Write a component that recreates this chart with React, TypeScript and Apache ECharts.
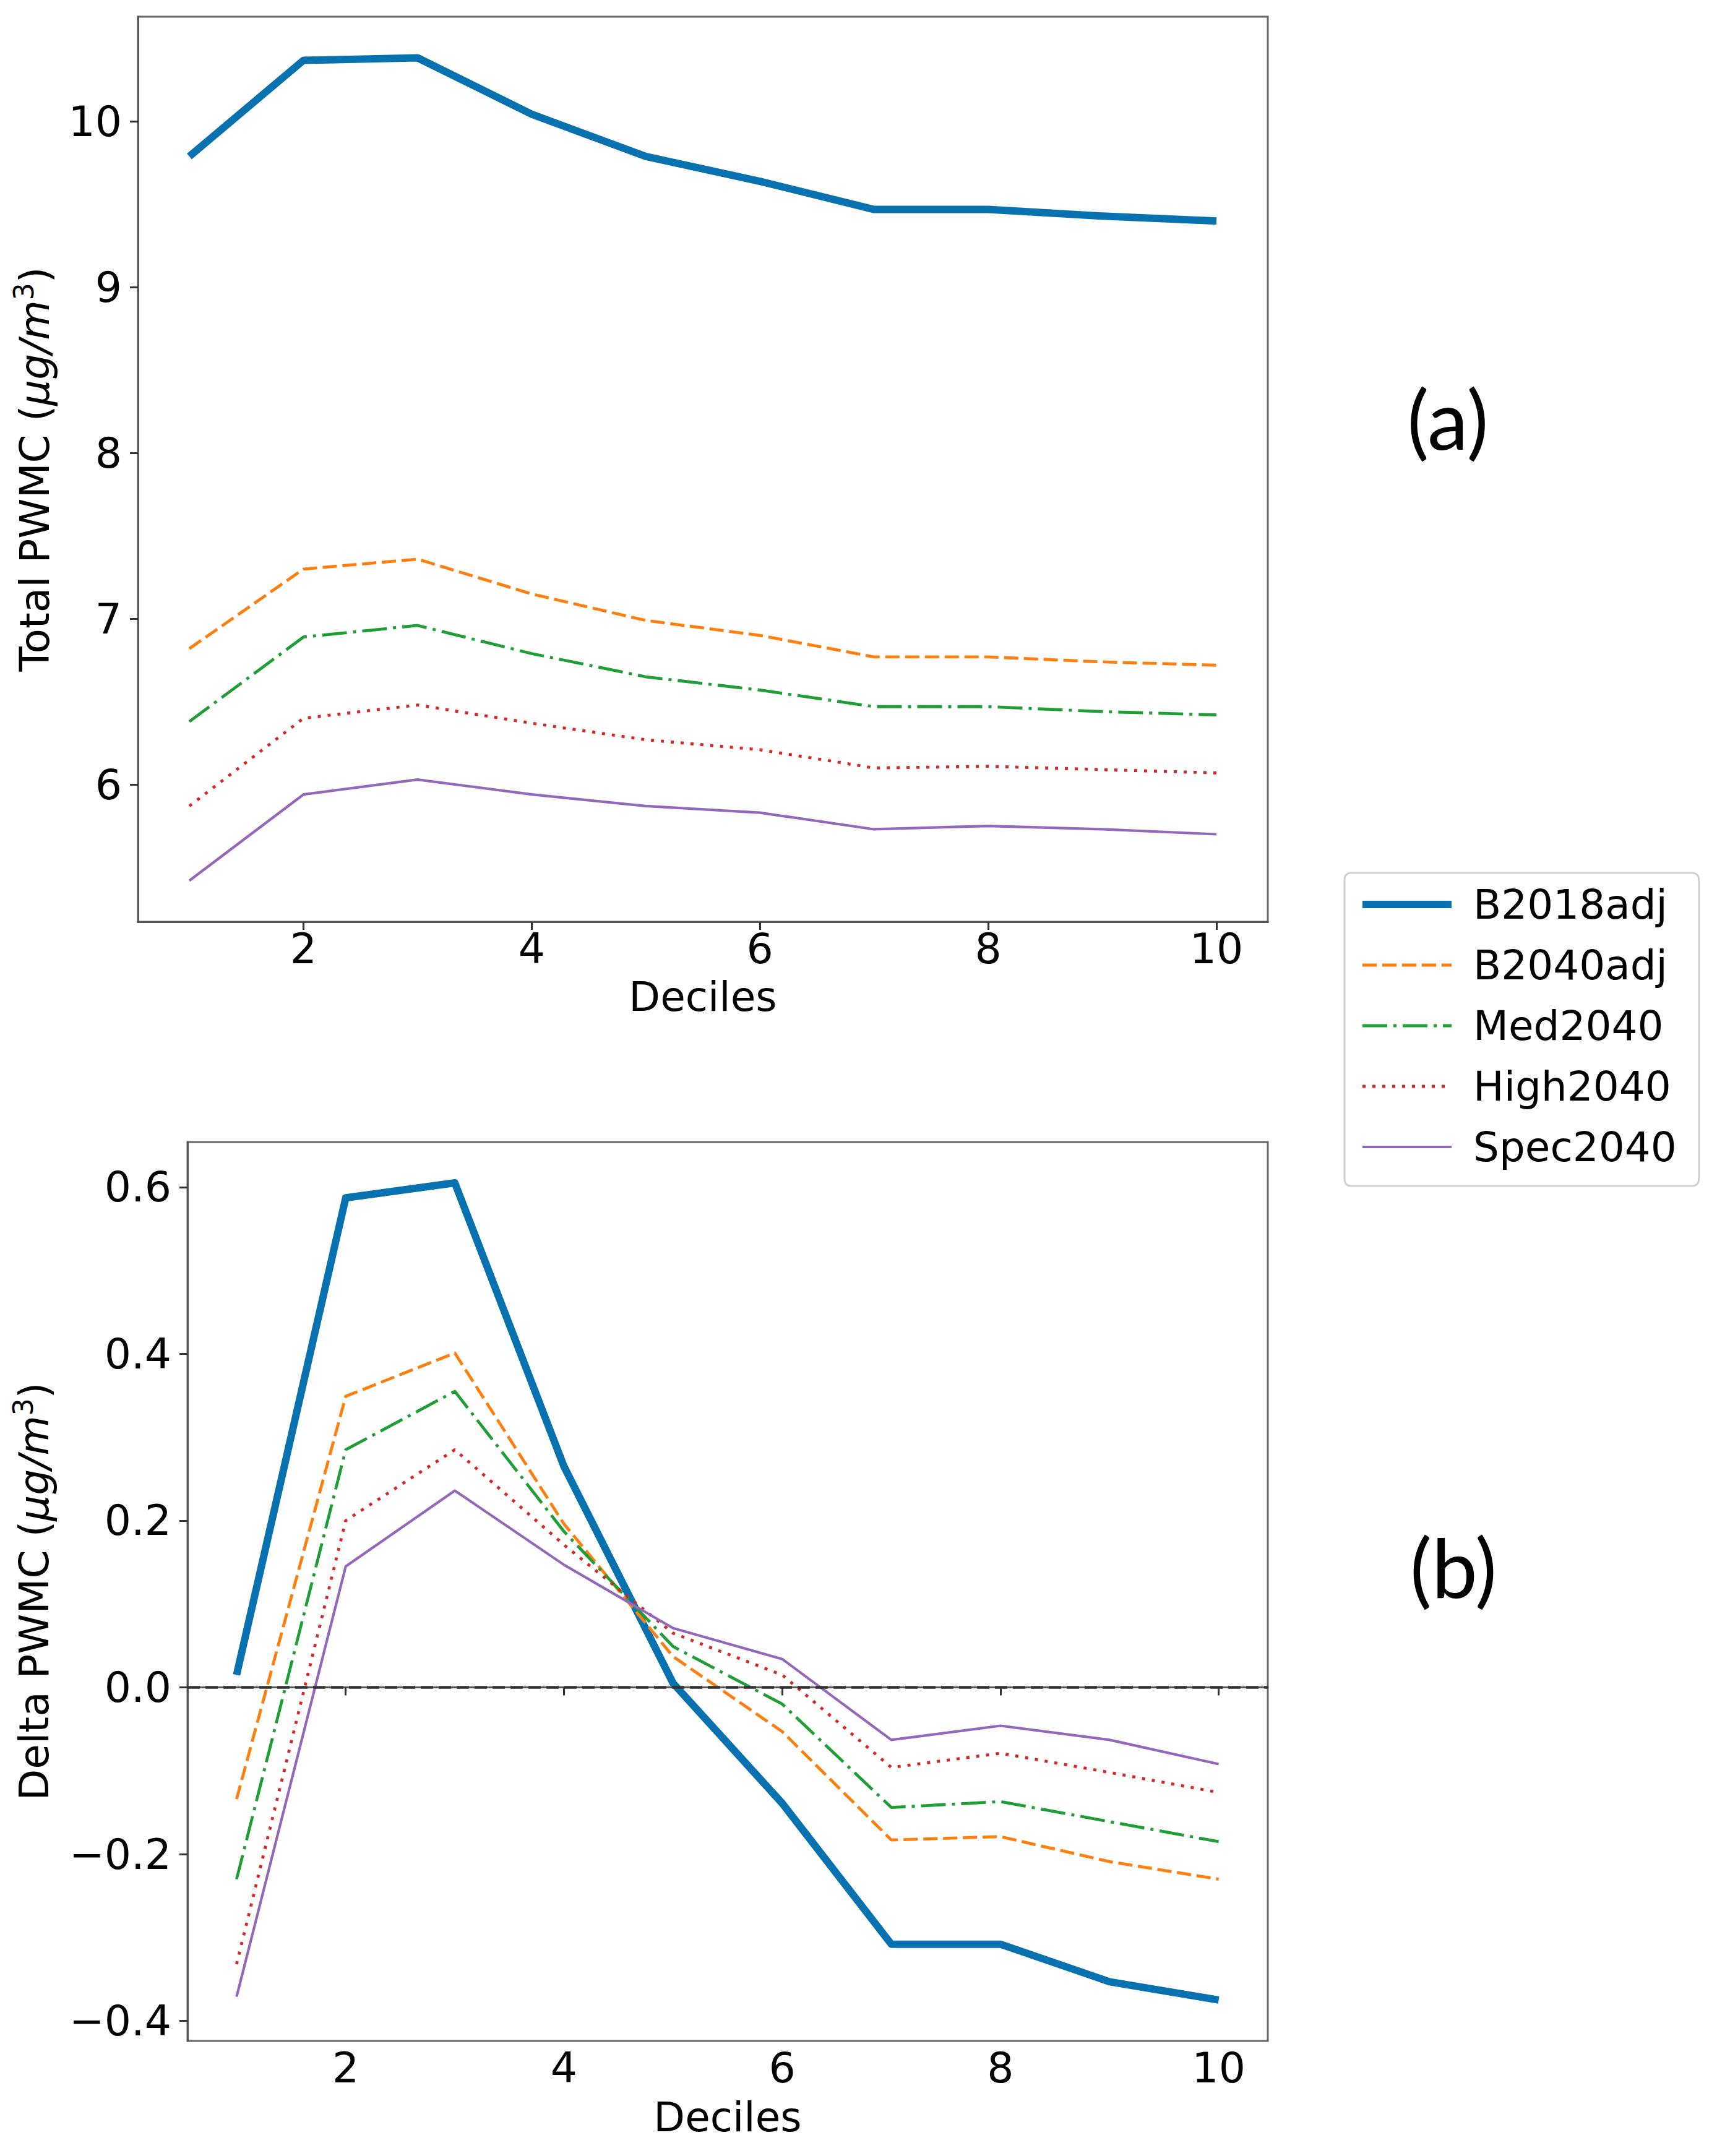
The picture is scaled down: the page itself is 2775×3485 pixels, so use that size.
import { useEffect, useRef } from 'react';
import * as echarts from 'echarts';

const deciles = [1, 2, 3, 4, 5, 6, 7, 8, 9, 10];
const seriesNames = ['B2018adj', 'B2040adj', 'Med2040', 'High2040', 'Spec2040'];

// (a) total PWMC
const totalB2018adj = [9.79, 10.37, 10.385, 10.045, 9.79, 9.64, 9.47, 9.47, 9.43, 9.4];
const totalB2040adj = [6.82, 7.3, 7.36, 7.15, 6.99, 6.9, 6.77, 6.77, 6.74, 6.72];
const totalMed2040 = [6.38, 6.89, 6.96, 6.79, 6.65, 6.57, 6.47, 6.47, 6.44, 6.42];
const totalHigh2040 = [5.87, 6.4, 6.48, 6.37, 6.27, 6.21, 6.1, 6.11, 6.09, 6.07];
const totalSpec2040 = [5.42, 5.94, 6.03, 5.94, 5.87, 5.83, 5.73, 5.75, 5.73, 5.7];

// (b) delta PWMC
const deltaB2018adj = [0.015, 0.587, 0.605, 0.265, 0.005, -0.139, -0.308, -0.308, -0.353, -0.375];
const deltaB2040adj = [-0.134, 0.349, 0.401, 0.196, 0.037, -0.053, -0.183, -0.179, -0.209, -0.23];
const deltaMed2040 = [-0.23, 0.285, 0.355, 0.187, 0.049, -0.02, -0.144, -0.137, -0.161, -0.185];
const deltaHigh2040 = [-0.332, 0.2, 0.285, 0.171, 0.065, 0.015, -0.096, -0.079, -0.102, -0.126];
const deltaSpec2040 = [-0.371, 0.145, 0.236, 0.147, 0.071, 0.034, -0.063, -0.046, -0.063, -0.092];

const xTicks = [2, 4, 6, 8, 10];
const totalTicks = [6, 7, 8, 9, 10];
const deltaTicks = [-0.4, -0.2, 0, 0.2, 0.4, 0.6];

const FONT = 'DejaVu Sans';

const LINE: Record<string, { color: string; width: number; type: any }> = {
  B2018adj: { color: '#0872b0', width: 12, type: 'solid' },
  B2040adj: { color: '#ff7f0e', width: 4.8, type: [23, 9] },
  Med2040: { color: '#1f9e35', width: 4.8, type: [40, 10, 5, 10] },
  High2040: { color: '#d62728', width: 4.8, type: [5, 11] },
  Spec2040: { color: '#9467bd', width: 4.2, type: 'solid' },
};

// matplotlib-style 5% margins
const padded = (vals: number[]) => {
  const lo = Math.min(...vals);
  const hi = Math.max(...vals);
  const r = hi - lo;
  return [lo - 0.05 * r, hi + 0.05 * r];
};

const fmtDelta = (v: number) => (v < -1e-9 ? '\u2212' : '') + Math.abs(v).toFixed(1);

export default function App() {
  const ref = useRef<HTMLDivElement>(null);

  useEffect(() => {
    document.body.style.margin = '0';
    if (!ref.current) return;
    const chart = echarts.init(ref.current, undefined, { renderer: 'svg' });

    const totals = [totalB2018adj, totalB2040adj, totalMed2040, totalHigh2040, totalSpec2040];
    const deltas = [deltaB2018adj, deltaB2040adj, deltaMed2040, deltaHigh2040, deltaSpec2040];
    const [xMin, xMax] = padded(deciles);
    const [aMin, aMax] = padded(totals.flat());
    const [bMin, bMax] = padded(deltas.flat());

    const axisLine = { show: true, lineStyle: { color: '#555', width: 3 } };
    const tick = (vals: number[]) => ({
      show: true,
      inside: false,
      length: 13,
      customValues: vals,
      lineStyle: { color: '#333', width: 3 },
    });
    const label = { fontSize: 68, fontFamily: FONT, color: '#000' };
    const nameStyle = {
      fontSize: 66,
      fontFamily: FONT,
      color: '#000',
      lineHeight: 80,
      rich: {
        i: { fontSize: 66, fontFamily: FONT, fontStyle: 'italic', color: '#000', lineHeight: 80 },
        s: { fontSize: 44, fontFamily: FONT, color: '#000', lineHeight: 44, verticalAlign: 'top' },
      },
    };

    const xAxis = [0, 1].map((g) => ({
      gridIndex: g,
      type: 'value',
      min: xMin,
      max: xMax,
      name: 'Deciles',
      nameLocation: 'middle',
      nameGap: g === 0 ? 88 : 90,
      nameTextStyle: { fontSize: 66, fontFamily: FONT, color: '#000' },
      axisLine,
      axisTick: tick(xTicks),
      axisLabel: { ...label, margin: 9, customValues: xTicks },
      splitLine: { show: false },
    }));

    const yAxis = [
      {
        gridIndex: 0,
        type: 'value',
        min: aMin,
        max: aMax,
        name: 'Total PWMC ({i|μg/m}{s|3})',
        nameLocation: 'middle',
        nameRotate: 90,
        nameGap: 127,
        nameTextStyle: nameStyle,
        axisLine,
        axisTick: tick(totalTicks),
        axisLabel: { ...label, margin: 26, customValues: totalTicks },
        splitLine: { show: false },
      },
      {
        gridIndex: 1,
        type: 'value',
        min: bMin,
        max: bMax,
        name: 'Delta PWMC ({i|μg/m}{s|3})',
        nameLocation: 'middle',
        nameRotate: 90,
        nameGap: 208,
        nameTextStyle: nameStyle,
        axisLine,
        axisTick: tick(deltaTicks),
        axisLabel: { ...label, margin: 26, customValues: deltaTicks, formatter: fmtDelta },
        splitLine: { show: false },
      },
    ];

    const mk = (name: string, vals: number[], g: number, extra: any = {}) => ({
      name,
      type: 'line',
      xAxisIndex: g,
      yAxisIndex: g,
      data: vals.map((v, i) => [deciles[i], v]),
      symbol: 'none',
      lineStyle: { color: LINE[name].color, width: LINE[name].width, type: LINE[name].type, join: 'round' },
      itemStyle: { color: LINE[name].color },
      ...extra,
    });

    const series: any[] = [];
    seriesNames.forEach((n, i) => series.push(mk(n, totals[i], 0)));
    seriesNames.forEach((n, i) =>
      series.push(
        mk(
          n,
          deltas[i],
          1,
          i === 0
            ? {
                markLine: {
                  silent: true,
                  symbol: 'none',
                  label: { show: false },
                  lineStyle: { color: '#333', type: [20, 9], width: 4.5 },
                  data: [{ yAxis: 0 }],
                },
              }
            : {}
        )
      )
    );

    chart.setOption({
      animation: false,
      backgroundColor: '#fff',
      grid: [
        {
          left: 223, top: 27, width: 1826, height: 1463,
          show: true, borderColor: '#666', borderWidth: 3,
          containLabel: false, outerBoundsMode: 'none',
        },
        {
          left: 303, top: 1846, width: 1746, height: 1453,
          show: true, borderColor: '#666', borderWidth: 3,
          containLabel: false, outerBoundsMode: 'none',
        },
      ],
      xAxis,
      yAxis,
      legend: {
        data: seriesNames,
        orient: 'vertical',
        left: 2173,
        top: 1411,
        padding: [18, 36, 30, 23],
        itemWidth: 144,
        itemHeight: 70,
        itemGap: 32,
        itemStyle: { opacity: 0, borderWidth: 0 },
        lineStyle: { width: 'inherit', type: 'inherit' },
        textStyle: { fontSize: 66, fontFamily: FONT, color: '#000', padding: [0, 0, 0, 30] },
        borderColor: '#d0d0d0',
        borderWidth: 3,
        borderRadius: 10,
        backgroundColor: '#fff',
      },
      graphic: [
        {
          type: 'text',
          x: 2340,
          y: 676,
          style: { text: '(a)', fontSize: 132, fontFamily: 'Lato', fill: '#000', align: 'center', verticalAlign: 'middle' },
        },
        {
          type: 'text',
          x: 2349,
          y: 2532,
          style: { text: '(b)', fontSize: 132, fontFamily: 'Lato', fill: '#000', align: 'center', verticalAlign: 'middle' },
        },
      ],
      series,
    });

    return () => {
      chart.dispose();
    };
  }, []);

  return <div ref={ref} style={{ width: 2775, height: 3485 }} />;
}
